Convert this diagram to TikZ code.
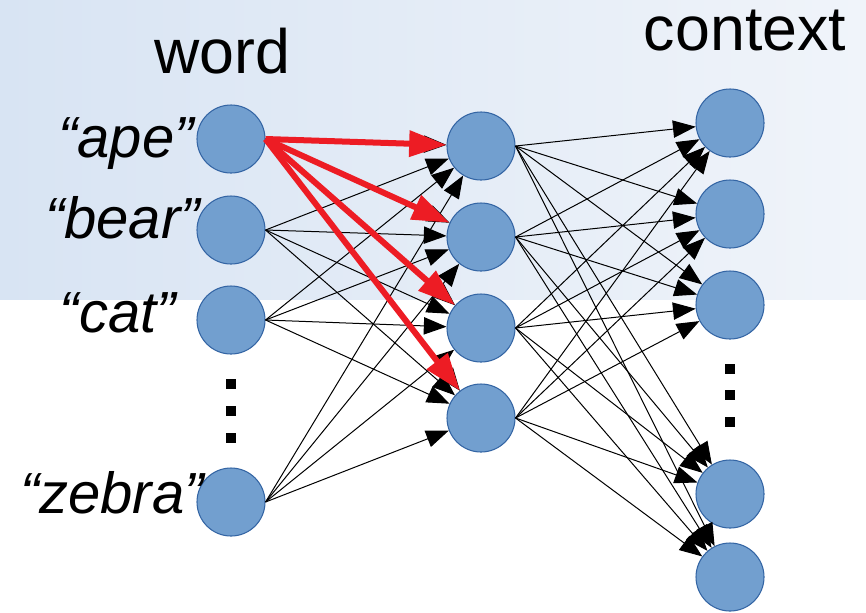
\documentclass[tikz,border=0pt]{standalone}
\usepackage{fontspec}
\setmainfont{Liberation Sans}
\usetikzlibrary{arrows.meta,positioning}
\definecolor{nodeblue}{RGB}{114,159,207}
\definecolor{rimblue}{RGB}{52,101,164}
\definecolor{bandleft}{RGB}{216,228,243}
\definecolor{bandright}{RGB}{240,244,250}
\definecolor{hotred}{RGB}{237,28,36}

\begin{document}
\begin{tikzpicture}[x=0.75pt,y=-0.75pt,
  unit/.style={circle,draw=rimblue,fill=nodeblue,line width=0.8pt,
    minimum size=51pt,inner sep=0pt},
  gap/.style={fill=black,minimum size=7.5pt,inner sep=0pt},
  heading/.style={font=\fontsize{47}{50}\selectfont,anchor=base,inner sep=0pt},
  wordlabel/.style={font=\fontsize{43.5}{46}\selectfont\itshape,
    anchor=base east,inner sep=0pt},
  link/.style={-{Triangle[length=17pt,width=13pt]},line width=0.75pt},
  hot/.style={-{Triangle[length=28pt,width=19pt]},line width=4.5pt,draw=hotred}
]
\useasboundingbox (0,0) rectangle (866,612);
% shaded band behind the upper half
\shade[left color=bandleft,right color=bandright] (0,0) rectangle (866,299);

% input layer
\node[unit] (w1) at (231,139) {};
\node[unit] (w2) at (231,230) {};
\node[unit] (w3) at (231,320) {};
\node[unit] (w4) at (231,502) {};
\node[gap] (wd1) at (231,384) {};
\node[gap] (wd2) at (231,411) {};
\node[gap] (wd3) at (231,438) {};

% hidden layer
\node[unit] (h1) at (481,146) {};
\node[unit] (h2) at (481,237) {};
\node[unit] (h3) at (481,328) {};
\node[unit] (h4) at (481,418) {};

% output layer
\node[unit] (c1) at (730,123) {};
\node[unit] (c2) at (730,214) {};
\node[unit] (c3) at (730,305) {};
\node[unit] (c4) at (730,494) {};
\node[unit] (c5) at (730,577) {};
\node[gap] (cd1) at (730,369) {};
\node[gap] (cd2) at (730,395) {};
\node[gap] (cd3) at (730,422) {};

% labels
\node[heading] (tword) at (222,73) {word};
\node[heading] (tcontext) at (745,50) {context};
\node[wordlabel] (lape) at (194,157) {“ape”};
\node[wordlabel] (lbear) at (200,238) {“bear”};
\node[wordlabel] (lcat) at (176,332) {“cat”};
\node[wordlabel] (lzebra) at (204,513) {“zebra”};

% full connections
\foreach \i in {1,...,4}
  \foreach \j in {1,...,4}
    \draw[link] (w\i.east) -- (h\j);
\foreach \i in {1,...,4}
  \foreach \j in {1,...,5}
    \draw[link] (h\i.east) -- (c\j);
% highlighted weights of the first word
\foreach \j in {1,...,4}
  \draw[hot] (w1.east) -- (h\j);
\end{tikzpicture}
\end{document}
